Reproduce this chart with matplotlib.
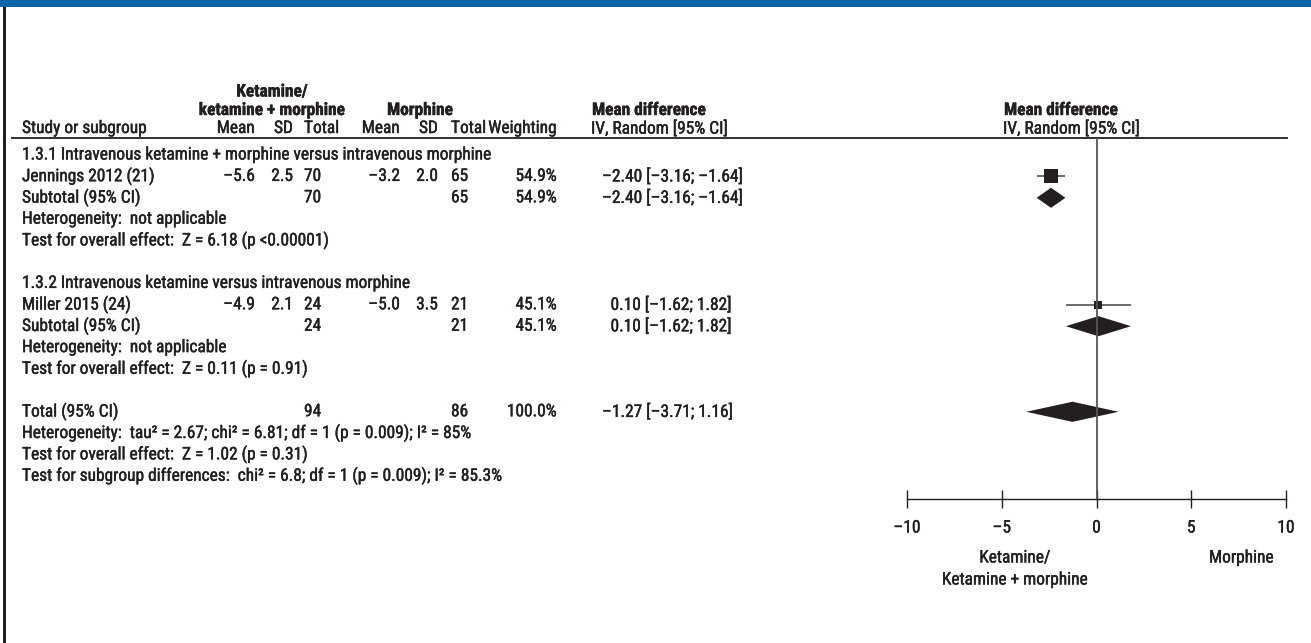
import matplotlib
matplotlib.use("Agg")
import matplotlib.pyplot as plt
from matplotlib import font_manager, transforms
from matplotlib import patheffects as pe
from matplotlib.patches import Polygon, Rectangle


def pick_font(names):
    # first narrow-ish family that is actually installed
    for name in names:
        try:
            font_manager.findfont(name, fallback_to_default=False)
            return name
        except ValueError:
            pass
    return "DejaVu Sans"


FONT = pick_font(["Liberation Sans Narrow", "Roboto Condensed", "Liberation Sans", "Roboto"])
plt.rcParams["font.family"] = [FONT, "DejaVu Sans"]

# ---- data ----
subgroups = ["1.3.1 Intravenous ketamine + morphine versus intravenous morphine",
             "1.3.2 Intravenous ketamine versus intravenous morphine"]
studies = ["Jennings 2012 (21)", "Miller 2015 (24)"]
ket_mean = [-5.6, -4.9]
ket_sd = [2.5, 2.1]
ket_n = [70, 24]
mor_mean = [-3.2, -5.0]
mor_sd = [2.0, 3.5]
mor_n = [65, 21]
weights = [54.9, 45.1]
md = [-2.40, 0.10]
ci_low = [-3.16, -1.62]
ci_high = [-1.64, 1.82]
overall_tests = ["Test for overall effect:  Z = 6.18 (p <0.00001)",
                 "Test for overall effect:  Z = 0.11 (p = 0.91)"]

total_ket_n = 94
total_mor_n = 86
total_weight = 100.0
total_md = -1.27
total_low = -3.71
total_high = 1.16
total_notes = ["Heterogeneity:  tau\u00b2 = 2.67; chi\u00b2 = 6.81; df = 1 (p = 0.009); I\u00b2 = 85%",
               "Test for overall effect:  Z = 1.02 (p = 0.31)",
               "Test for subgroup differences:  chi\u00b2 = 6.8; df = 1 (p = 0.009); I\u00b2 = 85.3%"]

xticks = [-10, -5, 0, 5, 10]
xtick_labels = ["\u201310", "\u20135", "0", "5", "10"]

# ---- style / layout ----
W, H = 1311, 643
INK = "#231f20"
FS = 12.5
ROW0, ROWH = 155, 21.4          # pixel centre of first body row, row pitch
box_ms = [10, 6]                  # marker size of the study squares
HEAVY = [pe.withStroke(linewidth=0.3, foreground=INK)]


def row_of(py):
    return (py - ROW0) / ROWH


def fmt(v, nd=1):
    return f"{v:.{nd}f}".replace("-", "\u2013")


def ci_text(m, lo, hi):
    lead = "" if m < 0 else "\u2007"
    return f"{lead}{fmt(m, 2)} [{fmt(lo, 2)}; {fmt(hi, 2)}]"


fig = plt.figure(figsize=(W / 100, H / 100), dpi=100)
fig.patch.set_facecolor("white")

ax = fig.add_axes([907 / W, 0, (1286 - 907) / W, 1])
ax.set_xlim(-10, 10)
ax.set_ylim(row_of(H), row_of(0))
ax.patch.set_alpha(0)

tr = transforms.blended_transform_factory(fig.transFigure, ax.transData)


def put(px, row, s, ha="left", bold=False):
    ax.text(px / W, row, s, transform=tr, ha=ha, va="center", fontsize=FS,
            color=INK, fontweight="bold" if bold else "normal", clip_on=False,
            path_effects=HEAVY)


# column anchors (pixels)
X_STUDY = 22
X_KMEAN, X_KSD, X_KTOT = 255, 293, 304
X_MMEAN, X_MSD, X_MTOT = 400, 438, 451
X_WEIGHT = 557
X_MDTXT = 602
X_HDR_MD = 592
X_HDR_PLOT = 1004

# header block
r_h1, r_h2, r_h3 = row_of(92), row_of(110.5), row_of(128.5)
put(272, r_h1, "Ketamine/", ha="center", bold=True)
put(272, r_h2, "ketamine + morphine", ha="center", bold=True)
put(420, r_h2, "Morphine", ha="center", bold=True)
put(X_HDR_MD, r_h2, "Mean difference", bold=True)
put(X_HDR_PLOT, r_h2, "Mean difference", bold=True)
put(X_STUDY, r_h3, "Study or subgroup")
put(X_KMEAN, r_h3, "Mean", ha="right")
put(X_KSD, r_h3, "SD", ha="right")
put(X_KTOT, r_h3, "Total")
put(X_MMEAN, r_h3, "Mean", ha="right")
put(X_MSD, r_h3, "SD", ha="right")
put(X_MTOT, r_h3, "Total")
put(X_WEIGHT, r_h3, "Weighting", ha="right")
put(X_HDR_MD - 1, r_h3, "IV, Random [95% CI]")
put(X_HDR_PLOT - 1, r_h3, "IV, Random [95% CI]")

header_row = row_of(138)
axis_row = row_of(499)
ax.plot([12 / W, 1287 / W], [header_row, header_row], transform=tr,
        color=INK, lw=1.3, clip_on=False)

# subgroups
row = 0
for g in range(len(studies)):
    put(X_STUDY, row, subgroups[g])
    r = row + 1
    put(X_STUDY, r, studies[g])
    put(X_KMEAN, r, fmt(ket_mean[g]), ha="right")
    put(X_KSD, r, fmt(ket_sd[g]), ha="right")
    put(X_KTOT, r, str(ket_n[g]))
    put(X_MMEAN, r, fmt(mor_mean[g]), ha="right")
    put(X_MSD, r, fmt(mor_sd[g]), ha="right")
    put(X_MTOT, r, str(mor_n[g]))
    put(X_WEIGHT, r, f"{weights[g]:.1f}%", ha="right")
    put(X_MDTXT, r, ci_text(md[g], ci_low[g], ci_high[g]))
    ax.hlines(r, ci_low[g], ci_high[g], color="#444444", lw=1.1)
    ax.plot(md[g], r, marker="s", ms=box_ms[g], color=INK, mew=0)

    r = row + 2
    put(X_STUDY, r, "Subtotal (95% CI)")
    put(X_KTOT, r, str(ket_n[g]))
    put(X_MTOT, r, str(mor_n[g]))
    put(X_WEIGHT, r, f"{weights[g]:.1f}%", ha="right")
    put(X_MDTXT, r, ci_text(md[g], ci_low[g], ci_high[g]))
    ax.add_patch(Polygon([(ci_low[g], r), (md[g], r - 0.47), (ci_high[g], r), (md[g], r + 0.47)],
                         closed=True, color=INK, lw=0))

    put(X_STUDY, row + 3, "Heterogeneity:  not applicable")
    put(X_STUDY, row + 4, overall_tests[g])
    row += 6

# overall
put(X_STUDY, row, "Total (95% CI)")
put(X_KTOT, row, str(total_ket_n))
put(X_MTOT, row, str(total_mor_n))
put(X_WEIGHT, row, f"{total_weight:.1f}%", ha="right")
put(X_MDTXT, row, ci_text(total_md, total_low, total_high))
ax.add_patch(Polygon([(total_low, row), (total_md, row - 0.47), (total_high, row), (total_md, row + 0.47)],
                     closed=True, color=INK, lw=0))
for i, note in enumerate(total_notes):
    put(X_STUDY, row + 1 + i, note)

# line of no effect
ax.vlines(0, header_row, axis_row, color="#555555", lw=1.3)

# axis
for s in ["top", "left", "right"]:
    ax.spines[s].set_visible(False)
ax.spines["bottom"].set_position(("data", axis_row))
ax.spines["bottom"].set_color(INK)
ax.spines["bottom"].set_linewidth(1.0)
ax.set_yticks([])
ax.set_xticks(xticks)
ax.set_xticklabels(xtick_labels)
ax.tick_params(axis="x", direction="inout", length=13, width=1.0, color=INK,
               labelsize=FS, labelcolor=INK, pad=9)
for lab in ax.get_xticklabels():
    lab.set_path_effects(HEAVY)

for x, py, s in [(-4.3, 558, "Ketamine/"), (-4.3, 580, "Ketamine + morphine"),
                 (7.65, 558, "Morphine")]:
    ax.text(x, row_of(py), s, ha="center", va="center", fontsize=FS,
            color=INK, clip_on=False, path_effects=HEAVY)

# frame: blue band on top, rule down the left edge
fig.add_artist(Rectangle((0, 1 - 7 / H), 1, 7 / H, transform=fig.transFigure,
                         color="#0765a8", lw=0))
fig.add_artist(Rectangle((3 / W, 0), 2.5 / W, 1 - 7 / H, transform=fig.transFigure,
                         color=INK, lw=0))

fig.savefig("out.png", dpi=100)
